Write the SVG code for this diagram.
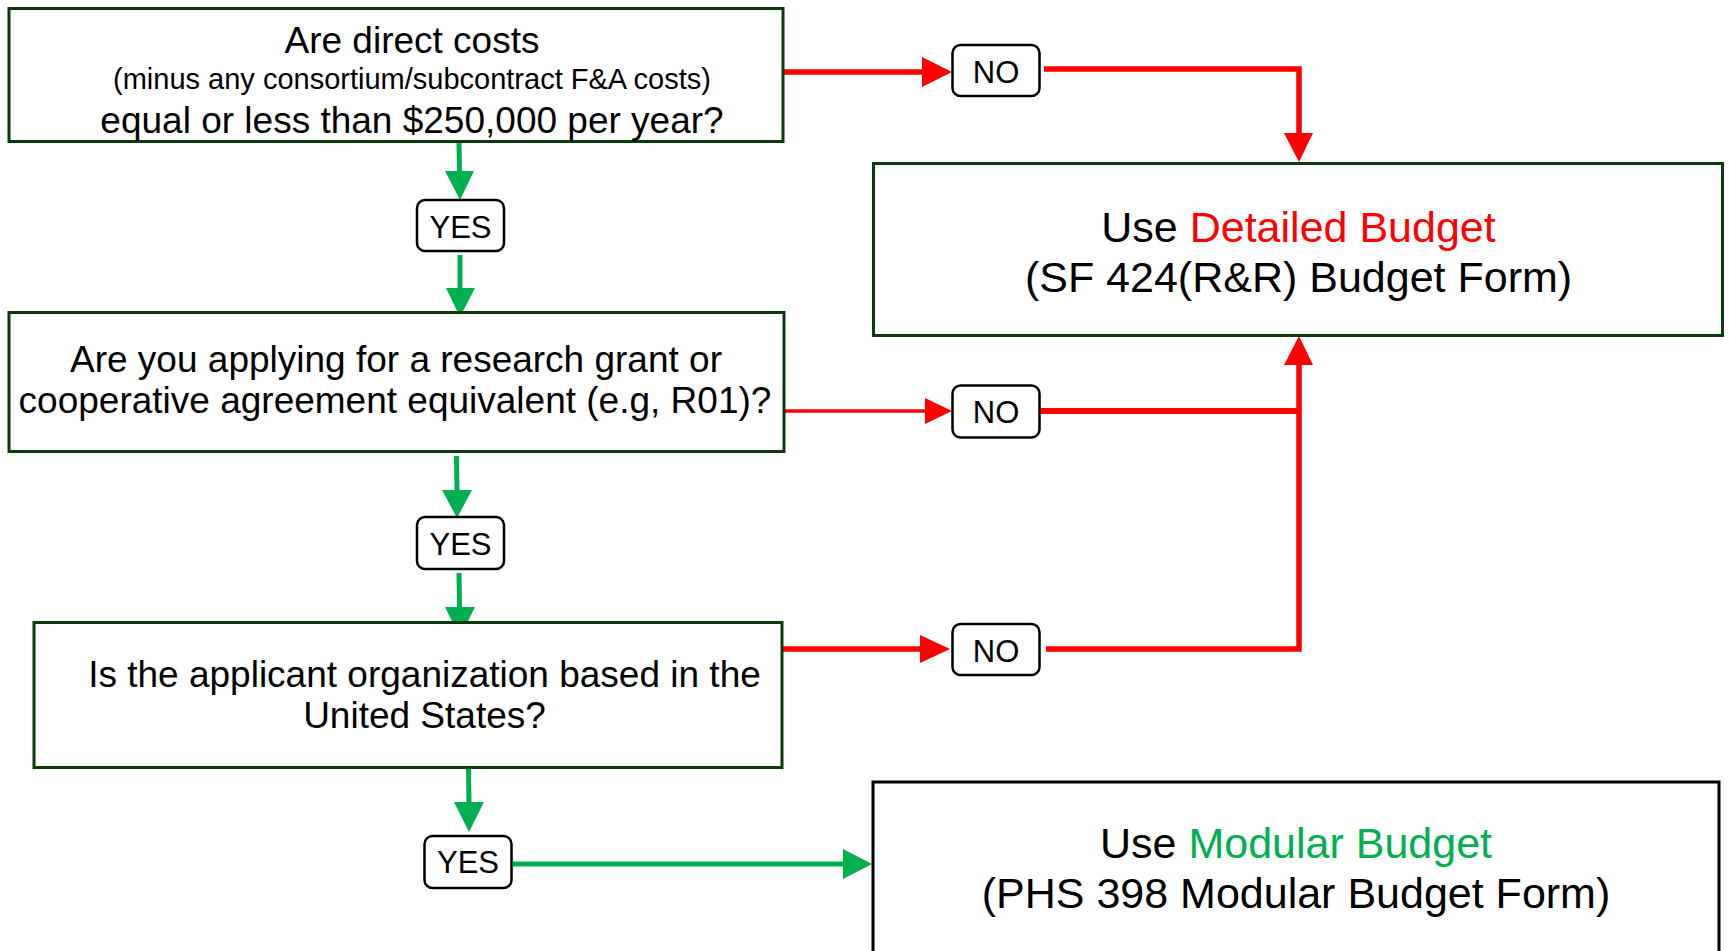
<svg xmlns="http://www.w3.org/2000/svg" width="1729" height="951" viewBox="0 0 1729 951">
<style>
.box{fill:#fff;stroke:#0b3a0b;stroke-width:3}
.box2{fill:#fff;stroke:#000;stroke-width:3}
.lbl{fill:#fff;stroke:#000;stroke-width:2.5}
text{font-family:"Liberation Sans",Arial,sans-serif;fill:#000;text-anchor:middle}
.q{font-size:37px}
.s{font-size:29px}
.big{font-size:43px}
.lt{font-size:31px}
.red{stroke:#ff0000;fill:none;stroke-width:5.5}
.redt{stroke:#ff0000;fill:none;stroke-width:3.5}
.grn{stroke:#00b050;fill:none;stroke-width:5}
.rh{fill:#ff0000}
.gh{fill:#00b050}
</style>
<rect width="1729" height="951" fill="#fff"/>
<g id="connectors">
<line class="red" x1="783" y1="72" x2="923" y2="72"/>
<polygon class="rh" points="922,57 952,72 922,87"/>
<polyline class="red" points="1044,69 1299,69 1299,135"/>
<polygon class="rh" points="1284,133 1313,133 1299,162"/>
<line class="redt" x1="784" y1="411" x2="926" y2="411"/>
<polygon class="rh" points="925,398 952,411 925,424"/>
<line class="red" x1="1040" y1="411" x2="1299" y2="411" style="stroke-width:6"/>
<line class="red" x1="782" y1="649" x2="921" y2="649"/>
<polygon class="rh" points="920,635 950,649 920,663"/>
<polyline class="red" points="1046,649 1299,649 1299,364"/>
<polygon class="rh" points="1284,365 1313,365 1299,336"/>
<line class="grn" x1="459" y1="142" x2="459.5" y2="173"/>
<polygon class="gh" points="445,171 474,171 460,200"/>
<line class="grn" x1="460" y1="255" x2="460" y2="290"/>
<polygon class="gh" points="446,288 475,288 460,317"/>
<line class="grn" x1="456.5" y1="456" x2="457" y2="491"/>
<polygon class="gh" points="442,490 472,490 457,518"/>
<line class="grn" x1="459" y1="573" x2="459.5" y2="608"/>
<polygon class="gh" points="445,607 475,607 460,637"/>
<line class="grn" x1="468.5" y1="768" x2="469" y2="803"/>
<polygon class="gh" points="454,802 484,802 469,832"/>
<line class="grn" x1="513" y1="864" x2="844" y2="864"/>
<polygon class="gh" points="843,849 872,864 843,879"/>
</g>
<g id="q1">
<rect class="box" x="9" y="8.5" width="774" height="133"/>
<text class="q" x="412" y="53">Are direct costs</text>
<text class="s" x="412" y="89">(minus any consortium/subcontract F&amp;A costs)</text>
<text class="q" x="412" y="133">equal or less than $250,000 per year?</text>
</g>
<g id="detailed">
<rect class="box" x="873.5" y="163.5" width="849" height="172"/>
<text class="big" x="1298.5" y="242">Use <tspan fill="#ff0000">Detailed Budget</tspan></text>
<text class="big" x="1298.5" y="292">(SF 424(R&amp;R) Budget Form)</text>
</g>
<g id="q2">
<rect class="box" x="9" y="312.5" width="775" height="139"/>
<text class="q" x="396" y="372">Are you applying for a research grant or</text>
<text class="q" x="395" y="413">cooperative agreement equivalent (e.g, R01)?</text>
</g>
<g id="q3">
<rect class="box" x="34" y="622.5" width="748" height="145"/>
<text class="q" x="424.5" y="687">Is the applicant organization based in the</text>
<text class="q" x="424.5" y="728">United States?</text>
</g>
<g id="modular">
<rect class="box2" x="873" y="782" width="846" height="200"/>
<text class="big" x="1296" y="858">Use <tspan fill="#00b050">Modular Budget</tspan></text>
<text class="big" x="1296" y="908">(PHS 398 Modular Budget Form)</text>
</g>
<g id="no1">
<rect class="lbl" x="952.5" y="45" width="87" height="51" rx="8"/>
<text class="lt" x="996" y="83">NO</text>
</g>
<g id="no2">
<rect class="lbl" x="952.5" y="385.5" width="87" height="52" rx="8"/>
<text class="lt" x="996" y="423">NO</text>
</g>
<g id="no3">
<rect class="lbl" x="952.5" y="624" width="87" height="51" rx="8"/>
<text class="lt" x="996" y="661.5">NO</text>
</g>
<g id="yes1">
<rect class="lbl" x="417" y="200" width="87" height="51" rx="8"/>
<text class="lt" x="460.5" y="238">YES</text>
</g>
<g id="yes2">
<rect class="lbl" x="417" y="517" width="87" height="52" rx="8"/>
<text class="lt" x="460.5" y="555">YES</text>
</g>
<g id="yes3">
<rect class="lbl" x="424.5" y="836" width="87" height="52" rx="8"/>
<text class="lt" x="468" y="873">YES</text>
</g>
</svg>
